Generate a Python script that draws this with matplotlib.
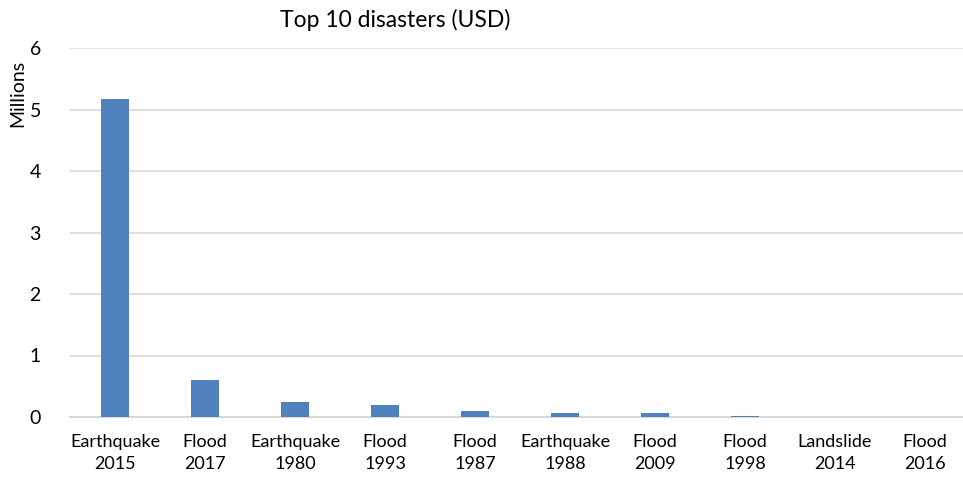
import matplotlib
matplotlib.use("Agg")
import matplotlib.pyplot as plt

categories = ["Earthquake\n2015", "Flood\n2017", "Earthquake\n1980", "Flood\n1993",
              "Flood\n1987", "Earthquake\n1988", "Flood\n2009", "Flood\n1998",
              "Landslide\n2014", "Flood\n2016"]
losses_millions = [5.17, 0.60, 0.24, 0.20, 0.10, 0.06, 0.06, 0.015, 0.008, 0.008]
yticks = [0, 1, 2, 3, 4, 5, 6]

plt.rcParams['font.family'] = ['Lato', 'DejaVu Sans']

fig = plt.figure(figsize=(9.63, 4.79), dpi=100)
ax = fig.add_axes([70 / 963, 62 / 479, 900 / 963, 369 / 479])

x = range(len(categories))
ax.bar(x, losses_millions, width=0.31, color="#4f81bd", zorder=3)

ax.set_xlim(-0.5, len(categories) - 0.5)
ax.set_ylim(0, 6)
ax.set_yticks(yticks)
ax.set_yticklabels([str(t) for t in yticks], fontsize=14)
ax.set_xticks(list(x))
ax.set_xticklabels(categories, fontsize=13, linespacing=1.45)

ax.grid(axis="y", color="#d9d9d9", linewidth=1.2, zorder=0)
for side in ["top", "right", "left"]:
    ax.spines[side].set_visible(False)
ax.spines["bottom"].set_color("#d9d9d9")
ax.spines["bottom"].set_linewidth(1.5)
ax.tick_params(axis="both", length=0)
ax.tick_params(axis="y", pad=21)
ax.tick_params(axis="x", pad=12)

fig.text(395 / 963, 1 - 20 / 479, "Top 10 disasters (USD)", ha="center", va="center", fontsize=16.5)
fig.text(18 / 963, 1 - 93 / 479, "Millions", rotation=90, ha="center", va="center", fontsize=14)

fig.savefig("out.png", dpi=100, facecolor="white")
